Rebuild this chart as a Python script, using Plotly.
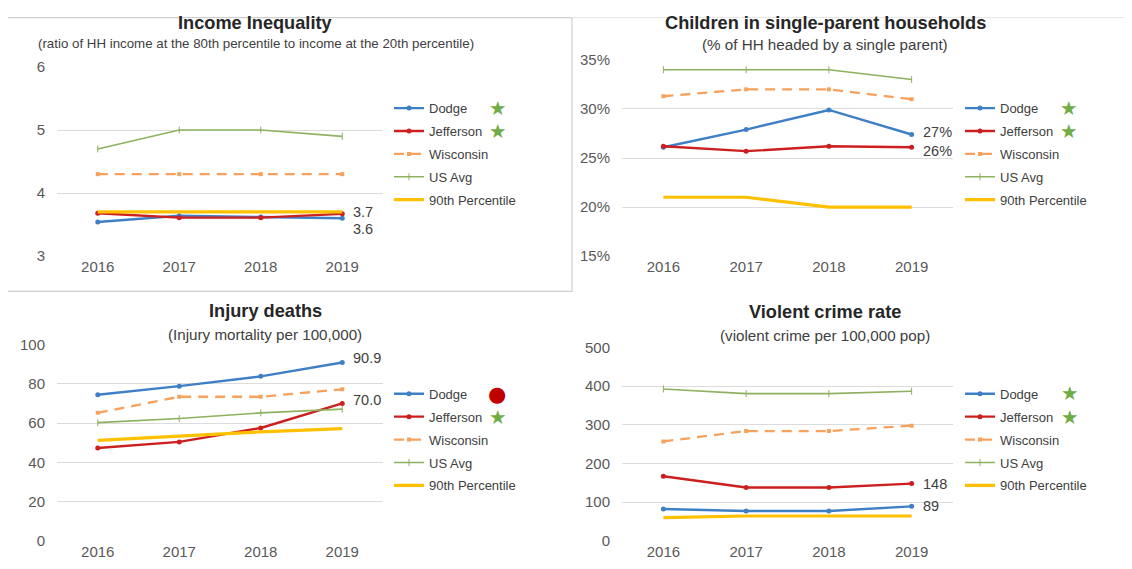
import plotly.graph_objects as go

years = ["2016", "2017", "2018", "2019"]
series_names = ["Dodge", "Jefferson", "Wisconsin", "US Avg", "90th Percentile"]

# income inequality (ratio 80th/20th percentile)
inc_dodge = [3.54, 3.64, 3.62, 3.6]
inc_jefferson = [3.68, 3.61, 3.61, 3.67]
inc_wisconsin = [4.3, 4.3, 4.3, 4.3]
inc_us = [4.7, 5.0, 5.0, 4.9]
inc_p90 = [3.7, 3.7, 3.7, 3.7]

# children in single-parent households (share)
kids_dodge = [0.261, 0.279, 0.299, 0.274]
kids_jefferson = [0.262, 0.257, 0.262, 0.261]
kids_wisconsin = [0.313, 0.32, 0.32, 0.31]
kids_us = [0.34, 0.34, 0.34, 0.33]
kids_p90 = [0.21, 0.21, 0.20, 0.20]

# injury deaths per 100,000
inj_dodge = [74.4, 78.8, 83.8, 90.9]
inj_jefferson = [47.3, 50.4, 57.5, 70.0]
inj_wisconsin = [65.2, 73.4, 73.4, 77.2]
inj_us = [60.2, 62.3, 65.2, 67.1]
inj_p90 = [51.2, 53.4, 55.5, 57.2]

# violent crime per 100,000
crime_dodge = [82, 77, 77, 89]
crime_jefferson = [167, 138, 138, 148]
crime_wisconsin = [257, 284, 284, 298]
crime_us = [393, 381, 381, 387]
crime_p90 = [60, 64, 64, 64]

# end-of-line labels (Dodge, Jefferson)
inc_labels = ["3.6", "3.7"]
kids_labels = ["27%", "26%"]
inj_labels = ["90.9", "70.0"]
crime_labels = ["89", "148"]

# grade marks next to Dodge / Jefferson in each legend
marks = [["star", "star"], ["star", "star"], ["dot", "star"], ["star", "star"]]

BLUE = "#3f7fc6"
RED = "#cc1f1f"
ORANGE = "#f7a15c"
GREEN = "#8db15e"
YELLOW = "#ffc000"
FONT = "Liberation Sans, Arial, sans-serif"
W, H = 1132, 569

# the page puts the figure a bit lower / squeezed; map screen pixels to paper
OX, OY, SY = 8, 17.3, 0.9645


def fx(px):
    return (px - OX) / W


def fy(py):
    return 1 - ((py - OY) / SY) / H


panels = [
    dict(title="Income Inequality",
         sub="(ratio of HH income at the 80th percentile to income at the 20th percentile)",
         sub_size=13.3, data=[inc_dodge, inc_jefferson, inc_wisconsin, inc_us, inc_p90],
         labels=inc_labels, label_dy=[-11, 2], rng=[3, 6], dtick=1, fmt=None,
         px_x=(57, 383), px_y=(67, 255), title_xy=(255, 23), sub_xy=(256, 44),
         legend_xy=(389, 108), mark_x=497),
    dict(title="Children in single-parent households",
         sub="(% of HH headed by a single parent)",
         sub_size=15.2, data=[kids_dodge, kids_jefferson, kids_wisconsin, kids_us, kids_p90],
         labels=kids_labels, label_dy=[2, -4], rng=[0.15, 0.35], dtick=0.05, fmt=".0%",
         px_x=(622, 953), px_y=(60, 255), title_xy=(825, 23), sub_xy=(825, 45),
         legend_xy=(960, 108), mark_x=1068),
    dict(title="Injury deaths",
         sub="(Injury mortality per 100,000)",
         sub_size=15.2, data=[inj_dodge, inj_jefferson, inj_wisconsin, inj_us, inj_p90],
         labels=inj_labels, label_dy=[4, 3], rng=[0, 100], dtick=20, fmt=None,
         px_x=(57, 383), px_y=(343, 538), title_xy=(265, 310), sub_xy=(265, 333),
         legend_xy=(389, 392), mark_x=497),
    dict(title="Violent crime rate",
         sub="(violent crime per 100,000 pop)",
         sub_size=15.2, data=[crime_dodge, crime_jefferson, crime_wisconsin, crime_us, crime_p90],
         labels=crime_labels, label_dy=[0, 0], rng=[0, 500], dtick=100, fmt=None,
         px_x=(622, 953), px_y=(346, 538), title_xy=(825, 311), sub_xy=(825, 334),
         legend_xy=(960, 392), mark_x=1069),
]

styles = [
    dict(line=dict(color=BLUE, width=2.4), marker=dict(symbol="circle", size=5, color=BLUE)),
    dict(line=dict(color=RED, width=2.4), marker=dict(symbol="circle", size=5, color=RED)),
    dict(line=dict(color=ORANGE, width=2.3, dash="10px,7px"), marker=dict(symbol="square", size=4, color=ORANGE)),
    dict(line=dict(color=GREEN, width=1.6), marker=dict(symbol="line-ns", size=5, color=GREEN, line=dict(color=GREEN, width=1))),
    dict(line=dict(color=YELLOW, width=3.2), marker=dict(size=1, opacity=0)),
]

fig = go.Figure()
annotations = []
layout = {}

for i, p in enumerate(panels):
    n = "" if i == 0 else str(i + 1)
    xa, ya = "x" + n, "y" + n
    lg = "legend" + n
    for j, name in enumerate(series_names):
        st = styles[j]
        fig.add_trace(go.Scatter(
            x=years, y=p["data"][j], name=name, mode="lines+markers" if j < 4 else "lines",
            line=st["line"], marker=st["marker"], xaxis=xa, yaxis=ya,
            legend=lg, legendgroup=f"{i}-{j}", hoverinfo="skip",
        ))
    x0, x1 = p["px_x"]
    yt, yb = p["px_y"]
    layout["xaxis" + n] = dict(
        domain=[fx(x0), fx(x1)], anchor=ya, type="category", range=[-0.5, 3.5],
        showgrid=False, zeroline=False, showline=False, ticks="",
        tickfont=dict(size=15, color="#595959", family=FONT),
    )
    layout["yaxis" + n] = dict(
        domain=[fy(yb), fy(yt)], anchor=xa, range=p["rng"], dtick=p["dtick"],
        tickformat=p["fmt"], showgrid=True, gridcolor="#dcdcdc", gridwidth=1.3,
        zeroline=False, showline=False, ticks="", ticklabelstandoff=11,
        tickfont=dict(size=15, color="#595959", family=FONT),
    )
    lx, ly = p["legend_xy"]
    layout[lg] = dict(
        x=fx(lx), y=fy(ly - 15), xanchor="left", yanchor="top", bgcolor="rgba(0,0,0,0)",
        font=dict(size=13, color="#404040", family=FONT), itemwidth=30,
        tracegroupgap=3, traceorder="grouped",
    )
    tx, ty = p["title_xy"]
    annotations.append(dict(text="<b>" + p["title"] + "</b>", x=fx(tx), y=fy(ty),
                            xref="paper", yref="paper", xanchor="center", yanchor="middle",
                            showarrow=False, font=dict(size=18.2, color="#262626", family=FONT)))
    sx, sy = p["sub_xy"]
    annotations.append(dict(text=p["sub"], x=fx(sx), y=fy(sy), xref="paper", yref="paper",
                            xanchor="center", yanchor="middle", showarrow=False,
                            font=dict(size=p["sub_size"], color="#404040", family=FONT)))
    # end labels for Dodge and Jefferson
    for j in range(2):
        annotations.append(dict(text=p["labels"][j], x=len(years) - 1, y=p["data"][j][-1],
                                xref=xa, yref=ya, xanchor="left", yanchor="middle",
                                xshift=9, yshift=p["label_dy"][j], showarrow=False,
                                font=dict(size=14.5, color="#404040", family=FONT)))
    # grade marks in legend
    for j in range(2):
        my = ly + j * 23
        if marks[i][j] == "star":
            annotations.append(dict(text="★", x=fx(p["mark_x"]), y=fy(my), xref="paper",
                                    yref="paper", xanchor="center", yanchor="middle",
                                    showarrow=False,
                                    font=dict(size=19.5, color="#70ad47", family="DejaVu Sans")))
        else:
            annotations.append(dict(text="●", x=fx(p["mark_x"]), y=fy(my), xref="paper",
                                    yref="paper", xanchor="center", yanchor="middle",
                                    showarrow=False,
                                    font=dict(size=21, color="#c00000", family="DejaVu Sans")))

fig.update_layout(
    width=W, height=H, margin=dict(l=0, r=0, t=0, b=0),
    paper_bgcolor="white", plot_bgcolor="white", showlegend=True,
    annotations=annotations,
    shapes=[dict(type="rect", xref="paper", yref="paper", x0=fx(5), x1=fx(572),
                 y0=fy(290), y1=0.999, line=dict(color="#cfcfcf", width=1.2)),
            dict(type="line", xref="paper", yref="paper", x0=fx(572), x1=1,
                 y0=0.999, y1=0.999, line=dict(color="#e6e6e6", width=1))],
    **layout,
)

fig.write_html("out.html")
